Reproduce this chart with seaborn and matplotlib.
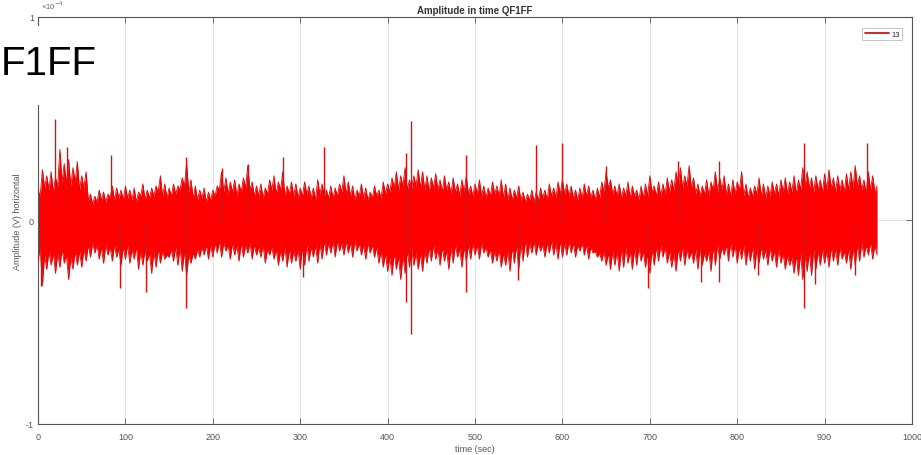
import numpy as np
import pandas as pd
import matplotlib
matplotlib.use("Agg")
import matplotlib.pyplot as plt
import seaborn as sns
from matplotlib.patches import Rectangle

# Signal envelope of channel 13 (units of 1e-4 V).
# Peaks are sampled every 5 s; the dips between them sit half-way in time.
peak_time = np.arange(0, 961, 5)
upper = [
    0.15, 0.25, 0.22, 0.24, 0.21, 0.35, 0.28, 0.30, 0.26, 0.29, 0.22, 0.24,
    0.13, 0.12, 0.15, 0.14, 0.13, 0.17, 0.16, 0.15, 0.17,
    0.15, 0.16, 0.14, 0.18, 0.15, 0.16, 0.17, 0.22, 0.18, 0.16,
    0.18, 0.17, 0.21, 0.28, 0.20, 0.17, 0.15, 0.16, 0.14, 0.15,
    0.17, 0.24, 0.21, 0.19, 0.20, 0.18, 0.21, 0.27, 0.19, 0.17,
    0.18, 0.16, 0.20, 0.22, 0.19, 0.24, 0.17, 0.19, 0.18, 0.16,
    0.19, 0.17, 0.16, 0.20, 0.18, 0.15, 0.17, 0.16, 0.18, 0.22,
    0.19, 0.17, 0.15, 0.18, 0.16, 0.14, 0.17, 0.15, 0.19, 0.18,
    0.21, 0.24, 0.22, 0.26, 0.20, 0.22, 0.25, 0.24, 0.22, 0.21,
    0.23, 0.20, 0.22, 0.19, 0.21, 0.18, 0.20, 0.22, 0.17, 0.18,
    0.20, 0.17, 0.16, 0.19, 0.17, 0.20, 0.18, 0.16, 0.15, 0.17,
    0.14, 0.13, 0.15, 0.14, 0.16, 0.15, 0.18, 0.16, 0.19, 0.20,
    0.18, 0.17, 0.15, 0.16, 0.18, 0.17, 0.15, 0.16, 0.19, 0.24,
    0.20, 0.17, 0.18, 0.16, 0.19, 0.17, 0.15, 0.17, 0.18, 0.22,
    0.17, 0.19, 0.18, 0.21, 0.20, 0.24, 0.26, 0.22, 0.27, 0.21,
    0.18, 0.17, 0.20, 0.19, 0.24, 0.21, 0.22, 0.18, 0.20, 0.19,
    0.24, 0.18, 0.16, 0.17, 0.21, 0.18, 0.17, 0.19, 0.18, 0.20,
    0.21, 0.19, 0.22, 0.20, 0.26, 0.24, 0.21, 0.22, 0.20, 0.23,
    0.25, 0.21, 0.22, 0.20, 0.23, 0.24, 0.27, 0.22, 0.20, 0.24,
    0.22, 0.17,
]
lower = [
    -0.20, -0.32, -0.24, -0.22, -0.26, -0.23, -0.21, -0.29, -0.24, -0.22, -0.23, -0.20,
    -0.18, -0.16, -0.19, -0.21, -0.17, -0.20, -0.18, -0.22, -0.19,
    -0.21, -0.19, -0.24, -0.22, -0.20, -0.26, -0.23, -0.21, -0.19, -0.18,
    -0.20, -0.22, -0.25, -0.27, -0.21, -0.19, -0.18, -0.17, -0.19, -0.18,
    -0.16, -0.18, -0.15, -0.19, -0.17, -0.20, -0.18, -0.16, -0.19, -0.17,
    -0.18, -0.21, -0.17, -0.19, -0.22, -0.20, -0.23, -0.21, -0.20, -0.24,
    -0.22, -0.20, -0.18, -0.21, -0.19, -0.17, -0.16, -0.18, -0.15, -0.17,
    -0.16, -0.18, -0.15, -0.17, -0.19, -0.16, -0.18, -0.21, -0.23, -0.25,
    -0.27, -0.24, -0.29, -0.26, -0.23, -0.22, -0.24, -0.25, -0.21, -0.20,
    -0.19, -0.22, -0.20, -0.24, -0.21, -0.18, -0.23, -0.20, -0.19, -0.17,
    -0.19, -0.16, -0.18, -0.21, -0.20, -0.23, -0.22, -0.25, -0.21, -0.24,
    -0.20, -0.18, -0.16, -0.17, -0.15, -0.18, -0.16, -0.17, -0.19, -0.18,
    -0.17, -0.16, -0.18, -0.15, -0.17, -0.19, -0.16, -0.18, -0.20, -0.22,
    -0.24, -0.22, -0.25, -0.23, -0.21, -0.24, -0.22, -0.20, -0.23, -0.26,
    -0.22, -0.20, -0.18, -0.21, -0.23, -0.25, -0.20, -0.22, -0.19, -0.21,
    -0.24, -0.22, -0.20, -0.25, -0.22, -0.19, -0.17, -0.20, -0.18, -0.21,
    -0.19, -0.22, -0.20, -0.24, -0.21, -0.19, -0.22, -0.20, -0.23, -0.21,
    -0.24, -0.22, -0.26, -0.27, -0.29, -0.25, -0.27, -0.24, -0.22, -0.21,
    -0.23, -0.20, -0.22, -0.19, -0.21, -0.24, -0.22, -0.20, -0.18, -0.17,
    -0.19, -0.17,
]
dip_time = np.arange(2.5, 960, 5)
upper_dip = [
    0.12, 0.16, 0.15, 0.14, 0.17, 0.19, 0.18, 0.17, 0.19, 0.15, 0.16, 0.10,
    0.08, 0.09, 0.10, 0.09, 0.11, 0.10, 0.11, 0.10, 0.11, 0.10, 0.09, 0.12,
    0.10, 0.11, 0.12, 0.14, 0.12, 0.11, 0.12, 0.13, 0.15, 0.17, 0.14, 0.11,
    0.10, 0.11, 0.09, 0.10, 0.12, 0.15, 0.14, 0.13, 0.14, 0.12, 0.14, 0.16,
    0.15, 0.12, 0.12, 0.11, 0.13, 0.15, 0.13, 0.15, 0.12, 0.13, 0.12, 0.11,
    0.12, 0.13, 0.11, 0.10, 0.13, 0.12, 0.11, 0.11, 0.12, 0.14, 0.13, 0.12,
    0.10, 0.12, 0.11, 0.10, 0.11, 0.12, 0.11, 0.13, 0.14, 0.16, 0.15, 0.17,
    0.15, 0.16, 0.17, 0.16, 0.15, 0.14, 0.16, 0.15, 0.14, 0.15, 0.13, 0.14,
    0.12, 0.14, 0.13, 0.12, 0.13, 0.12, 0.11, 0.12, 0.13, 0.12, 0.11, 0.10,
    0.10, 0.11, 0.10, 0.09, 0.10, 0.09, 0.10, 0.11, 0.10, 0.12, 0.11, 0.13,
    0.13, 0.12, 0.11, 0.10, 0.11, 0.12, 0.11, 0.10, 0.11, 0.14, 0.16, 0.13,
    0.12, 0.11, 0.12, 0.11, 0.12, 0.10, 0.11, 0.12, 0.14, 0.12, 0.12, 0.13,
    0.14, 0.15, 0.17, 0.16, 0.17, 0.16, 0.13, 0.12, 0.13, 0.12, 0.15, 0.14,
    0.15, 0.13, 0.12, 0.13, 0.15, 0.12, 0.11, 0.12, 0.13, 0.12, 0.11, 0.12,
    0.13, 0.12, 0.14, 0.13, 0.14, 0.13, 0.15, 0.17, 0.16, 0.14, 0.15, 0.14,
    0.15, 0.16, 0.14, 0.15, 0.14, 0.15, 0.16, 0.17, 0.15, 0.13, 0.15, 0.14,
]
lower_dip = [
    -0.13, -0.17, -0.15, -0.16, -0.16, -0.14, -0.17, -0.18, -0.15, -0.15, -0.14, -0.12,
    -0.11, -0.12, -0.13, -0.12, -0.13, -0.12, -0.14, -0.13, -0.12, -0.14, -0.13, -0.15,
    -0.14, -0.16, -0.15, -0.14, -0.15, -0.17, -0.14, -0.13, -0.13, -0.15, -0.17, -0.16,
    -0.14, -0.13, -0.12, -0.12, -0.11, -0.10, -0.11, -0.12, -0.11, -0.12, -0.11, -0.12,
    -0.11, -0.12, -0.13, -0.12, -0.14, -0.13, -0.14, -0.15, -0.13, -0.14, -0.15, -0.14,
    -0.13, -0.12, -0.13, -0.12, -0.11, -0.10, -0.11, -0.10, -0.10, -0.11, -0.10, -0.11,
    -0.10, -0.11, -0.12, -0.11, -0.12, -0.13, -0.15, -0.16, -0.18, -0.16, -0.18, -0.17,
    -0.15, -0.14, -0.16, -0.16, -0.15, -0.13, -0.12, -0.14, -0.13, -0.15, -0.13, -0.12,
    -0.14, -0.13, -0.12, -0.11, -0.12, -0.11, -0.13, -0.14, -0.15, -0.14, -0.16, -0.15,
    -0.13, -0.12, -0.11, -0.10, -0.11, -0.10, -0.11, -0.12, -0.11, -0.10, -0.11, -0.10,
    -0.11, -0.10, -0.11, -0.12, -0.11, -0.12, -0.13, -0.15, -0.16, -0.15, -0.16, -0.15,
    -0.15, -0.14, -0.13, -0.15, -0.14, -0.13, -0.15, -0.16, -0.14, -0.13, -0.12, -0.13,
    -0.15, -0.16, -0.14, -0.13, -0.14, -0.15, -0.14, -0.13, -0.16, -0.15, -0.13, -0.12,
    -0.13, -0.12, -0.11, -0.12, -0.13, -0.12, -0.14, -0.13, -0.14, -0.13, -0.14, -0.13,
    -0.15, -0.14, -0.16, -0.17, -0.18, -0.17, -0.16, -0.17, -0.15, -0.14, -0.15, -0.14,
    -0.15, -0.13, -0.14, -0.13, -0.15, -0.14, -0.13, -0.12, -0.11, -0.12, -0.11, -0.12,
]

# Isolated peaks that stand out of the band (time in s, amplitude in 1e-4 V)
spike_time = [3, 19, 33, 83, 94, 123, 169, 169, 211, 240, 280, 303, 327,
              421, 421, 427, 427, 490, 490, 549, 570, 600, 650, 698, 732,
              759, 779, 779, 824, 876, 876, 889, 935, 949]
spike_value = [-0.32, 0.50, 0.36, 0.32, -0.33, -0.35, 0.31, -0.43, 0.26, 0.28,
               0.31, -0.28, 0.36, 0.33, -0.40, 0.49, -0.56, 0.32, -0.35, -0.29,
               0.37, 0.38, 0.27, -0.33, 0.29, -0.30, 0.29, -0.30, -0.27, 0.38,
               -0.43, -0.31, -0.27, 0.38]

x_ticks = [0, 100, 200, 300, 400, 500, 600, 700, 800, 900, 1000]
y_ticks = [-1, 0, 1]

sns.set_style("white")
plt.rcParams["font.family"] = ["Liberation Sans", "DejaVu Sans"]

env = pd.concat([
    pd.DataFrame({"t": peak_time, "upper": upper, "lower": lower}),
    pd.DataFrame({"t": dip_time, "upper": upper_dip, "lower": lower_dip}),
]).sort_values("t").reset_index(drop=True)

fig = plt.figure(figsize=(9.21, 4.56), dpi=100)
ax = fig.add_axes([38 / 921, 1 - 425 / 456, (912 - 38) / 921, (425 - 18) / 456])

red = "#ff0000"
ax.fill_between(env["t"], env["lower"], env["upper"], color=red, lw=0, zorder=2)
sns.lineplot(data=env, x="t", y="upper", color="#dd0808", lw=0.6, ax=ax,
             zorder=3, label="13", sort=False, estimator=None)
sns.lineplot(data=env, x="t", y="lower", color="#dd0808", lw=0.6, ax=ax,
             zorder=3, legend=False, sort=False, estimator=None)
ax.vlines(spike_time, 0, spike_value, color="#d81010", lw=1.0, zorder=3)

ax.set_xlim(0, 1000)
ax.set_ylim(-1, 1)
ax.set_xticks(x_ticks)
ax.set_xticklabels([str(v) for v in x_ticks])
ax.set_yticks(y_ticks)
ax.set_yticklabels([str(v) for v in y_ticks])
ax.grid(True, color="#e3e3e3", lw=0.8, zorder=0)
ax.set_axisbelow(True)
ax.tick_params(direction="in", length=4, width=0.6, color="#555555",
               labelsize=6.5, labelcolor="#555555", top=True, right=True,
               bottom=True, left=True, pad=3)
ax.tick_params(axis="x", pad=6)
for sp in ax.spines.values():
    sp.set_visible(True)
    sp.set_color("#555555")
    sp.set_linewidth(0.8)

ax.set_xlabel("time (sec)", fontsize=6.5, color="#555555", labelpad=2)
ax.set_ylabel("Amplitude (V) horizontal", fontsize=6.5, color="#555555", labelpad=3)
ax.set_title("Amplitude in time QF1FF", fontsize=7, fontweight="bold",
             color="#333333", pad=3)
ax.text(0.004, 1.014, "×10$^{-4}$", transform=ax.transAxes, fontsize=5.5,
        color="#666666", ha="left", va="bottom")

leg = ax.legend(loc="upper right", fontsize=5.5, frameon=True, fancybox=False,
                handlelength=3.2, borderpad=0.3, handletextpad=0.3,
                bbox_to_anchor=(0.993, 0.982))
leg.get_frame().set_edgecolor("#aaaaaa")
leg.get_frame().set_linewidth(0.6)
for line in leg.get_lines():
    line.set_color("#cc0000")
    line.set_linewidth(1.2)

# Slide heading overlapping the figure's top-left corner
fig.patches.append(Rectangle((0, 1 - 106 / 456), 112 / 921, 79 / 456,
                             transform=fig.transFigure, facecolor="white",
                             edgecolor="none", zorder=5))
fig.text(1 / 921, 1 - 64 / 456, "F1FF", fontsize=29, color="black",
         ha="left", va="center", zorder=6)

fig.savefig("out.png", dpi=100)
